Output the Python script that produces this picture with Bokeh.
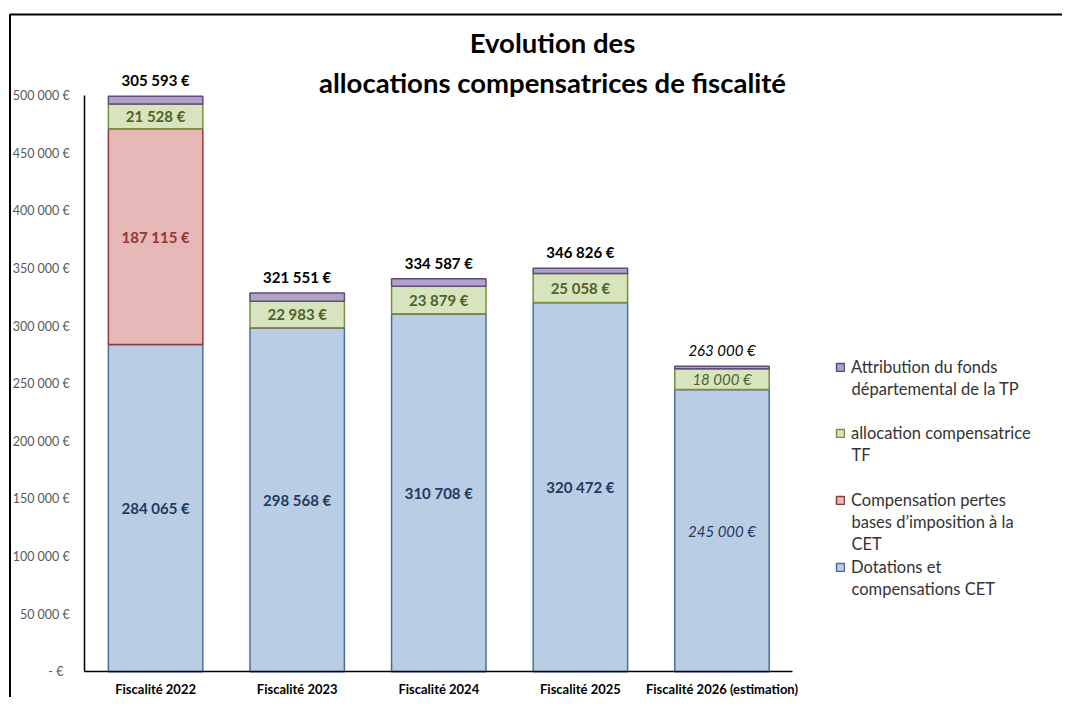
from bokeh.plotting import figure
from bokeh.models import (ColumnDataSource, Range1d, FixedTicker, BoxAnnotation,
                          LabelSet, Label, Legend, LegendItem)
from bokeh.core.properties import value, field
from bokeh.embed import file_html
from bokeh.resources import INLINE

# ---------------- data ----------------
categories = ["Fiscalité 2022", "Fiscalité 2023", "Fiscalité 2024",
              "Fiscalité 2025", "Fiscalité 2026 (estimation)"]
dotations_cet = [284065, 298568, 310708, 320472, 245000]
compensation_cet = [187115, 0, 0, 0, 0]
allocation_tf = [21528, 22983, 23879, 25058, 18000]
fonds_tp = [6700, 7200, 6400, 4600, 2200]
total_labels = ["305 593 €", "321 551 €", "334 587 €", "346 826 €", "263 000 €"]
estimated = [False, False, False, False, True]
y_ticks = [0, 50000, 100000, 150000, 200000, 250000, 300000, 350000,
           400000, 450000, 500000]
series_names = [["Dotations et", "compensations CET"],
                ["Compensation pertes", "bases d’imposition à la", "CET"],
                ["allocation compensatrice", "TF"],
                ["Attribution du fonds", "départemental de la TP"]]
title_lines = ["Evolution des", "allocations compensatrices de fiscalité"]

FILLS = ["#B9CDE5", "#E6B9B8", "#D7E4BD", "#B3A2C7"]
LINES = ["#4A6F9E", "#8E3B39", "#76923C", "#5F4B7E"]
LABEL_COLORS = ["#1F3A60", "#953735", "#4F6228"]
FONT = "Lato"
W, H = 1062, 697


def fmt(v):
    return f"{v:,}".replace(",", " ") + " €"


xpos = [i + 0.5 for i in range(len(categories))]

p = figure(x_range=Range1d(-0.5953, 6.9047), y_range=Range1d(-22297, 582422),
           width=W, height=H, output_backend="svg", toolbar_location=None,
           min_border=0, min_border_left=0, min_border_right=0,
           min_border_top=0, min_border_bottom=0)
p.outline_line_color = None
p.xgrid.visible = False
p.ygrid.visible = False

src = ColumnDataSource(dict(x=xpos, s0=dotations_cet, s1=compensation_cet,
                            s2=allocation_tf, s3=fonds_tp))
rends = p.vbar_stack(["s0", "s1", "s2", "s3"], x="x", width=0.667, source=src,
                     fill_color=FILLS, line_color=LINES, line_width=1.5)

# axes (drawn at the data origin)
p.yaxis.fixed_location = 0
p.yaxis.bounds = (0, 500000)
p.yaxis.ticker = FixedTicker(ticks=y_ticks)
p.yaxis.major_label_overrides = {t: (fmt(t) if t else "-   €") for t in y_ticks}
p.yaxis.major_label_text_font = FONT
p.yaxis.major_label_text_font_size = "12.5px"
p.yaxis.major_label_text_color = "#595959"
p.yaxis.major_tick_line_color = None
p.yaxis.minor_tick_line_color = None
p.yaxis.major_label_standoff = 9
p.yaxis.axis_line_width = 1.5
p.yaxis.axis_line_color = "#000000"

p.xaxis.fixed_location = 0
p.xaxis.bounds = (0, len(categories))
p.xaxis.ticker = FixedTicker(ticks=xpos)
p.xaxis.major_label_overrides = {x: c for x, c in zip(xpos, categories)}
p.xaxis.major_tick_line_color = None
p.xaxis.minor_tick_line_color = None
p.xaxis.major_label_text_font = FONT
p.xaxis.major_label_text_font_size = "13px"
p.xaxis.major_label_text_font_style = "bold"
p.xaxis.major_label_text_color = "#000000"
p.xaxis.major_label_standoff = 3
p.xaxis.axis_line_width = 1.5
p.xaxis.axis_line_color = "#000000"

# segment labels
series_vals = [dotations_cet, compensation_cet, allocation_tf]
bottoms = [0] * len(categories)
for k, vals in enumerate(series_vals):
    xs, ys, txt, sty = [], [], [], []
    for i, v in enumerate(vals):
        if v > 0:
            xs.append(xpos[i])
            ys.append(bottoms[i] + v / 2)
            txt.append(fmt(v))
            sty.append("italic" if estimated[i] else "bold")
        bottoms[i] += v
    ls = LabelSet(x="x", y="y", text="t", source=ColumnDataSource(dict(x=xs, y=ys, t=txt, s=sty)),
                  text_align="center", text_baseline="middle",
                  text_font=value(FONT), text_font_size=value("15px"),
                  text_font_style=field("s"), text_color=LABEL_COLORS[k])
    p.add_layout(ls)

tops = [b + f for b, f in zip(bottoms, fonds_tp)]
tot = LabelSet(x="x", y="y", text="t",
               source=ColumnDataSource(dict(x=xpos, y=tops, t=total_labels,
                                            s=["italic" if e else "bold" for e in estimated])),
               y_offset=16, text_align="center", text_baseline="middle",
               text_font=value(FONT), text_font_size=value("15px"),
               text_font_style=field("s"), text_color="#000000")
p.add_layout(tot)

# title (screen position measured from the bottom-left corner)
for txt, ytop in zip(title_lines, [42, 82]):
    p.add_layout(Label(x=552, y=H - ytop, x_units="screen", y_units="screen", text=txt,
                       text_align="center", text_baseline="middle",
                       text_font=FONT, text_font_size="27.5px", text_font_style="bold",
                       text_color="#000000"))

# chart-area border (left and top edges visible)
p.add_layout(BoxAnnotation(left=9.5, right=5000, top=H - 14, bottom=-5000,
                           left_units="screen", right_units="screen",
                           top_units="screen", bottom_units="screen",
                           fill_alpha=0, line_color="#000000", line_alpha=1.0,
                           line_width=2))

# legends: one per entry (first line in the legend, the rest as wrapped lines)
legend_rows = [(3, 366.5), (2, 433.3), (1, 500.0), (0, 566.7)]
LINE_GAP = 21.5
for idx, ytop in legend_rows:
    lines = series_names[idx]
    lg = Legend(items=[LegendItem(label=lines[0], renderers=[rends[idx]])],
                location=(835, H - ytop - 10), orientation="vertical",
                border_line_color=None, background_fill_alpha=0,
                padding=0, margin=0, glyph_width=10, glyph_height=10,
                label_standoff=6, label_text_font=FONT, label_text_font_size="16.5px",
                label_text_color="#333333")
    p.add_layout(lg)
    for j, extra in enumerate(lines[1:], start=1):
        p.add_layout(Label(x=851, y=H - (ytop + j * LINE_GAP), x_units="screen",
                           y_units="screen", text=extra, text_align="left",
                           text_baseline="middle", text_font=FONT,
                           text_font_size="16.5px", text_color="#333333"))

open("out.html", "w").write(file_html(p, INLINE))
